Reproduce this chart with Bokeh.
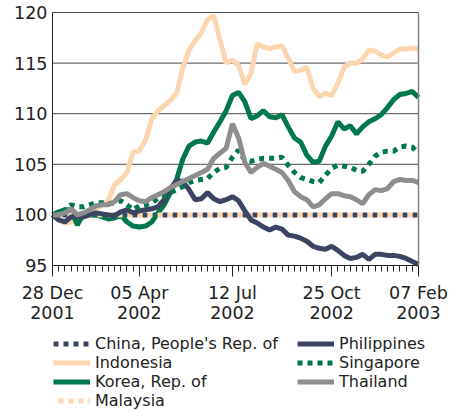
from bokeh.plotting import figure
from bokeh.models import Range1d, FixedTicker, Legend, LegendItem, LinearAxis
from bokeh.embed import file_html
from bokeh.resources import INLINE

# ---- data (weekly index, 28 Dec 2001 = 100) ----
week_index = list(range(60))
x_tick_positions = [0, 14, 29, 45, 59]
x_tick_labels = ["28 Dec\n2001", "05 Apr\n2002", "12 Jul\n2002", "25 Oct\n2002", "07 Feb\n2003"]
y_ticks = [95, 100, 105, 110, 115, 120]
grid_levels = [100, 105, 110, 115, 120]

china = [100.0, 100.0, 100.0, 100.0, 100.0, 100.0, 100.0, 100.0, 100.0, 100.0,
         100.0, 100.0, 100.0, 100.0, 100.0, 100.0, 100.0, 100.0, 100.0, 100.0,
         100.0, 100.0, 100.0, 100.0, 100.0, 100.0, 100.0, 100.0, 100.0, 100.0,
         100.0, 100.0, 100.0, 100.0, 100.0, 100.0, 100.0, 100.0, 100.0, 100.0,
         100.0, 100.0, 100.0, 100.0, 100.0, 100.0, 100.0, 100.0, 100.0, 100.0,
         100.0, 100.0, 100.0, 100.0, 100.0, 100.0, 100.0, 100.0, 100.0, 100.0]
indonesia = [100.0, 99.5, 99.2, 99.3, 99.6, 100.0, 100.3, 100.5, 101.0, 101.4,
             103.0, 103.5, 104.2, 106.2, 106.3, 107.4, 109.5, 110.3, 110.8, 111.3,
             112.0, 114.5, 116.3, 117.2, 118.0, 119.3, 119.7, 117.3, 115.0, 115.3,
             114.8, 112.9, 114.0, 116.9, 116.6, 116.4, 116.6, 116.7, 115.5, 114.2,
             114.3, 114.6, 112.5, 111.7, 112.0, 111.8, 113.0, 114.6, 115.0, 115.0,
             115.4, 116.3, 116.2, 115.8, 115.6, 116.0, 116.4, 116.4, 116.5, 116.4]
korea = [100.0, 100.3, 100.5, 100.5, 99.0, 100.1, 100.0, 100.0, 99.8, 99.6,
         99.7, 100.0, 99.3, 98.9, 98.8, 98.9, 99.3, 100.2, 101.0, 102.2,
         103.5, 105.5, 106.8, 107.2, 107.3, 107.1, 108.2, 109.2, 110.3, 111.8,
         112.1, 111.2, 109.5, 109.8, 110.3, 109.7, 109.6, 109.9, 108.7, 107.6,
         107.2, 105.9, 105.2, 105.3, 106.8, 107.8, 109.2, 108.5, 108.8, 108.0,
         108.7, 109.2, 109.5, 109.9, 110.6, 111.4, 111.9, 112.0, 112.2, 111.6]
malaysia = [100.0, 100.0, 100.0, 100.0, 100.0, 100.0, 100.0, 100.0, 100.0, 100.0,
            100.0, 100.0, 100.0, 100.0, 100.0, 100.0, 100.0, 100.0, 100.0, 100.0,
            100.0, 100.0, 100.0, 100.0, 100.0, 100.0, 100.0, 100.0, 100.0, 100.0,
            100.0, 100.0, 100.0, 100.0, 100.0, 100.0, 100.0, 100.0, 100.0, 100.0,
            100.0, 100.0, 100.0, 100.0, 100.0, 100.0, 100.0, 100.0, 100.0, 100.0,
            100.0, 100.0, 100.0, 100.0, 100.0, 100.0, 100.0, 100.0, 100.0, 100.0]
philippines = [100.0, 99.5, 99.3, 99.8, 99.9, 99.8, 100.0, 100.2, 100.1, 100.0,
               99.9, 100.3, 100.5, 100.2, 100.4, 100.5, 100.6, 100.8, 101.5, 102.6,
               103.4, 103.3, 102.5, 101.5, 101.6, 102.2, 101.6, 101.3, 101.5, 101.8,
               101.4, 100.4, 99.5, 99.2, 98.8, 98.5, 98.8, 98.6, 98.0, 97.9,
               97.7, 97.4, 96.9, 96.7, 96.6, 96.9, 96.5, 96.0, 95.7, 95.8,
               96.1, 95.6, 96.1, 96.1, 96.0, 96.0, 95.9, 95.7, 95.4, 95.1]
singapore = [100.0, 100.2, 100.5, 101.0, 100.8, 100.8, 101.0, 101.2, 101.2, 101.1,
             101.2, 101.4, 101.0, 100.5, 100.9, 101.0, 101.2, 101.6, 101.9, 102.2,
             102.5, 102.8, 103.2, 103.4, 103.5, 103.6, 104.2, 104.6, 104.7, 105.7,
             106.4, 105.4, 105.3, 105.5, 105.6, 105.6, 105.6, 105.7, 104.9, 104.2,
             103.7, 103.5, 103.3, 103.2, 103.9, 104.6, 104.9, 104.8, 104.7, 104.4,
             104.3, 105.0, 105.8, 106.2, 106.3, 106.3, 106.7, 106.8, 106.7, 106.1]
thailand = [100.0, 100.0, 100.2, 100.6, 100.0, 100.2, 100.5, 100.9, 101.0, 101.0,
            101.3, 102.0, 102.1, 101.7, 101.4, 101.3, 101.7, 102.0, 102.3, 102.7,
            103.0, 103.3, 103.6, 103.9, 104.2, 104.5, 105.6, 106.1, 106.6, 109.0,
            107.6, 105.2, 104.2, 104.7, 105.1, 104.8, 104.5, 104.2, 103.4, 102.3,
            101.8, 101.5, 100.8, 101.0, 101.6, 102.1, 102.1, 101.9, 101.8, 101.5,
            101.1, 102.0, 102.5, 102.4, 102.6, 103.3, 103.5, 103.4, 103.4, 103.2]

NAVY = "#3b4461"
PEACH = "#fdd6b0"
GREEN = "#00784b"
GRAY = "#8e8e8e"
FONT = "DejaVu Sans"
TEXT = "#222222"
GRIDC = "#4a4a4a"
LW = 5
DOT = "5 5"

# ---- layout (pixels); the frame covers the whole canvas so nothing is clipped ----
FIG_W, FIG_H = 450, 410
LEFT, RIGHT = 52, 418          # x pixel of first / last week
TOP, AXIS_Y = 12, 265          # y pixel of 120 and of 95
X_FIRST, X_LAST = week_index[0], week_index[-1]
Y_MIN, Y_MAX = y_ticks[0], y_ticks[-1]
px_per_week = (RIGHT - LEFT) / (X_LAST - X_FIRST)
px_per_unit = (AXIS_Y - TOP) / (Y_MAX - Y_MIN)
x_range = Range1d(X_FIRST - LEFT / px_per_week, X_LAST + (FIG_W - RIGHT) / px_per_week)
y_range = Range1d(Y_MIN - (FIG_H - AXIS_Y) / px_per_unit, Y_MAX + TOP / px_per_unit)

p = figure(width=FIG_W, height=FIG_H, min_border=0,
           x_range=x_range, y_range=y_range,
           output_backend="svg", toolbar_location=None,
           background_fill_color="white", border_fill_color="white")
p.outline_line_color = None
p.xgrid.visible = False
p.ygrid.visible = False

# horizontal grid lines limited to the plot area
p.segment(x0=[X_FIRST] * len(grid_levels), x1=[X_LAST] * len(grid_levels),
          y0=grid_levels, y1=grid_levels, line_color=GRIDC, line_width=1, level="underlay")

xa = p.xaxis[0]
xa.fixed_location = Y_MIN
xa.bounds = (X_FIRST, X_LAST)
xa.ticker = FixedTicker(ticks=x_tick_positions, minor_ticks=week_index)
xa.major_label_overrides = {pos: lab for pos, lab in zip(x_tick_positions, x_tick_labels)}
xa.major_tick_out = 11
xa.major_tick_in = 0
xa.minor_tick_out = 6
xa.minor_tick_in = 0
xa.axis_line_color = TEXT
xa.major_tick_line_color = TEXT
xa.minor_tick_line_color = TEXT
xa.major_label_text_font = FONT
xa.major_label_text_font_size = "17.5px"
xa.major_label_text_line_height = 1.03
xa.major_label_text_color = TEXT
xa.major_label_standoff = 6

ya = p.yaxis[0]
ya.fixed_location = X_FIRST
ya.bounds = (Y_MIN, Y_MAX)
ya.ticker = FixedTicker(ticks=y_ticks)
ya.major_tick_out = 0
ya.major_tick_in = 0
ya.minor_tick_line_color = None
ya.axis_line_color = TEXT
ya.major_label_text_font = FONT
ya.major_label_text_font_size = "17.5px"
ya.major_label_text_color = TEXT
ya.major_label_standoff = 5

# right-hand border of the plot area
ra = LinearAxis(fixed_location=X_LAST, bounds=(Y_MIN, Y_MAX), ticker=FixedTicker(ticks=[]),
                axis_line_color="#808080", axis_line_width=1.5,
                major_tick_line_color=None, minor_tick_line_color=None,
                major_label_text_font_size="0px")
p.add_layout(ra, "right")

series = [
    ("China, People's Rep. of", china, NAVY, DOT, 0),
    ("Indonesia", indonesia, PEACH, "solid", 0),
    ("Korea, Rep. of", korea, GREEN, "solid", 0),
    ("Malaysia", malaysia, PEACH, DOT, 5),
    ("Philippines", philippines, NAVY, "solid", 0),
    ("Singapore", singapore, GREEN, DOT, 0),
    ("Thailand", thailand, GRAY, "solid", 0),
]
items = []
for name, vals, col, dash, off in series:
    r = p.line(week_index, vals, line_color=col, line_width=LW, line_dash=dash, line_dash_offset=off)
    items.append(LegendItem(label=name, renderers=[r]))

ROW = 19

def make_legend(its, loc):
    return Legend(items=its, location=loc, orientation="vertical",
                  glyph_width=37, glyph_height=ROW, label_height=ROW, label_width=10,
                  label_standoff=5, padding=0, margin=0, spacing=0,
                  background_fill_alpha=0, border_line_alpha=0,
                  label_text_font=FONT, label_text_font_size="16px",
                  label_text_color=TEXT)

p.add_layout(make_legend(items[:4], (53, 0)))
p.add_layout(make_legend(items[4:], (297, ROW)))

open("out.html", "w").write(file_html(p, INLINE))
